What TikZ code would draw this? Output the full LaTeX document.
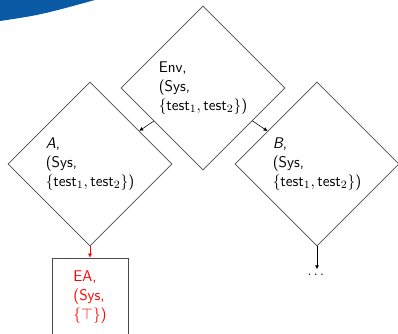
\documentclass[tikz,border=0pt]{standalone}
\usepackage{amsmath,amssymb}
\usepackage{tikz}
\usetikzlibrary{positioning,arrows.meta,shapes.geometric}
\definecolor{barblue}{HTML}{0A5AA6}
\definecolor{edge}{HTML}{4A4A4A}
\tikzset{
  dia/.style={diamond,aspect=1,draw=edge,minimum width=4.1cm,minimum height=4.1cm,
    inner sep=0pt,align=left,font=\sffamily\fontsize{11}{13.6}\selectfont},
  leaf/.style={rectangle,draw=edge,text=red,minimum width=1.9cm,minimum height=1.95cm,
    align=left,font=\sffamily\fontsize{11}{13.6}\selectfont},
  ar/.style={-{Latex[length=1mm,width=1mm]},draw=black},
}

\begin{document}
\begin{tikzpicture}[on grid]
  \useasboundingbox (0,0) rectangle (9.95,-8.35);
  % corner of the title bar
  \fill[barblue] (0,0) -- (2.375,0) .. controls (1.0,-0.375) .. (0,-0.525) -- cycle;
  \node[dia] (env) at (5.075,-2.2) {Env,\\(Sys,\\$\{\text{test}_1,\text{test}_2\}$)};
  \node[dia,below left=1.9cm and 2.825cm of env] (a) {\textit{A},\\(Sys,\\$\{\text{test}_1,\text{test}_2\}$)};
  \node[dia,below right=1.9cm and 2.85cm of env] (b) {\textit{B},\\(Sys,\\$\{\text{test}_1,\text{test}_2\}$)};
  \node[leaf,below=3.325cm of a] (ea) {EA,\\(Sys,\\$\{\top\}$)};
  \node[below=2.775cm of b] (dots) {$\dots$};
  \draw[ar] (env) -- (a);
  \draw[ar] (env) -- (b);
  \draw[ar,draw=red] (a) -- (ea);
  \draw[ar] (b) -- (dots);
\end{tikzpicture}
\end{document}
